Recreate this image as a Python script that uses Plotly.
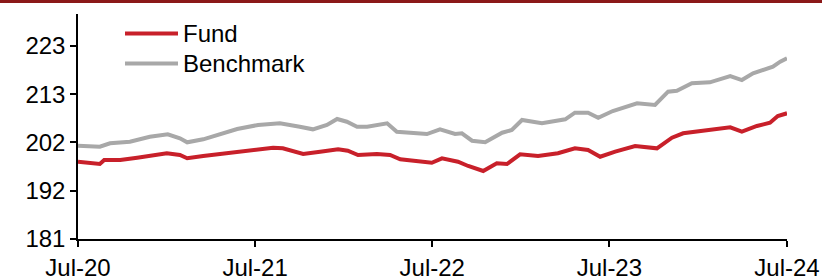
import plotly.graph_objects as go

fund_dates = ["2020-07-01","2020-08-15","2020-08-24","2020-09-26","2020-10-31","2020-12-31","2021-01-27",
              "2021-02-11","2021-03-16","2021-05-04","2021-06-06","2021-07-11","2021-08-07","2021-08-27",
              "2021-09-17","2021-10-08","2021-11-12","2021-12-19","2022-01-08","2022-01-29","2022-03-09",
              "2022-04-05","2022-04-26","2022-05-31","2022-06-30","2022-07-21","2022-08-23","2022-09-13",
              "2022-10-14","2022-11-11","2022-12-02","2022-12-29","2023-02-04","2023-03-17","2023-04-21",
              "2023-05-18","2023-06-12","2023-07-13","2023-08-23","2023-10-07","2023-11-07","2023-11-30",
              "2024-01-18","2024-03-06","2024-03-30","2024-04-30","2024-05-27","2024-06-12","2024-07-01"]
fund_values = [197.96,197.46,198.34,198.34,198.84,199.81,199.43,
               198.71,199.22,199.81,200.31,200.75,201.04,200.90,
               200.16,199.65,200.16,200.69,200.38,199.43,199.65,
               199.43,198.49,198.18,197.74,198.71,197.96,197.02,
               195.92,197.61,197.46,199.59,199.22,199.81,200.90,
               200.53,199.06,200.16,201.41,200.90,203.23,204.20,
               204.77,205.51,204.55,205.80,206.52,207.99,208.59]

bench_dates = ["2020-07-01","2020-08-15","2020-09-05","2020-10-16","2020-11-26","2021-01-02","2021-01-27",
               "2021-02-11","2021-03-16","2021-04-20","2021-05-25","2021-07-07","2021-08-21","2021-10-01",
               "2021-10-28","2021-11-26","2021-12-17","2022-01-06","2022-01-27","2022-02-17","2022-03-30",
               "2022-04-19","2022-05-16","2022-06-20","2022-07-17","2022-08-17","2022-08-31","2022-09-21",
               "2022-10-18","2022-11-22","2022-12-12","2023-01-02","2023-02-12","2023-04-01","2023-04-21",
               "2023-05-18","2023-06-08","2023-07-08","2023-08-27","2023-10-03","2023-10-30","2023-11-17",
               "2023-12-18","2024-01-24","2024-03-06","2024-03-30","2024-04-22","2024-06-02","2024-06-17",
               "2024-07-01"]
bench_values = [201.48,201.26,202.00,202.35,203.45,203.98,203.10,
                202.22,202.88,204.04,205.14,206.02,206.39,205.65,
                205.07,206.02,207.34,206.74,205.65,205.65,206.39,
                204.55,204.42,204.04,205.07,204.04,204.20,202.57,
                202.22,204.33,204.92,207.12,206.39,207.27,208.72,
                208.72,207.62,209.09,210.78,210.41,213.33,213.55,
                215.17,215.39,216.77,215.89,217.36,218.81,219.91,
                220.66]

x_tick_vals = ["2020-07-01","2021-07-01","2022-07-01","2023-07-01","2024-07-01"]
x_tick_text = ["Jul-20","Jul-21","Jul-22","Jul-23","Jul-24"]
y_tick_vals = [181, 191.6, 202.2, 212.8, 223.4]
y_tick_text = ["181","192","202","213","223"]
series_names = ["Fund", "Benchmark"]

RED = "#C8202A"
GRAY = "#A8A8A8"
FONT = "Liberation Sans, Arial, sans-serif"

W, H = 822, 277
ML, MR, MT, MB = 78, 35, 14, 38
PW, PH = W - ML - MR, H - MT - MB

fig = go.Figure()
fig.add_trace(go.Scatter(x=bench_dates, y=bench_values, mode="lines", name=series_names[1],
                         line=dict(color=GRAY, width=4), showlegend=False))
fig.add_trace(go.Scatter(x=fund_dates, y=fund_values, mode="lines", name=series_names[0],
                         line=dict(color=RED, width=4), showlegend=False))

def px_x(p):
    return (p - ML) / PW

def px_y(p):
    return 1 - (p - MT) / PH

shapes = [
    dict(type="line", xref="paper", yref="paper", x0=px_x(0), x1=px_x(W), y0=px_y(1.5), y1=px_y(1.5),
         line=dict(color="#8B1818", width=3)),
    dict(type="line", xref="paper", yref="paper", x0=px_x(125), x1=px_x(178), y0=px_y(33.5), y1=px_y(33.5),
         line=dict(color=RED, width=4)),
    dict(type="line", xref="paper", yref="paper", x0=px_x(125), x1=px_x(178), y0=px_y(63.5), y1=px_y(63.5),
         line=dict(color=GRAY, width=4)),
]
annotations = [
    dict(xref="paper", yref="paper", x=px_x(181), y=px_y(33.5), text=series_names[0], showarrow=False,
         xanchor="left", yanchor="middle", font=dict(size=24, color="black", family=FONT)),
    dict(xref="paper", yref="paper", x=px_x(181), y=px_y(63.5), text=series_names[1], showarrow=False,
         xanchor="left", yanchor="middle", font=dict(size=24, color="black", family=FONT)),
]

fig.update_layout(
    width=W, height=H,
    margin=dict(l=ML, r=MR, t=MT, b=MB, pad=0, autoexpand=False),
    paper_bgcolor="white", plot_bgcolor="white",
    font=dict(family=FONT, size=24, color="black"),
    shapes=shapes, annotations=annotations,
    xaxis=dict(type="date", range=["2020-07-01", "2024-07-01"], tickvals=x_tick_vals, ticktext=x_tick_text,
               showgrid=False, zeroline=False, showline=True, linecolor="black", linewidth=1.5,
               ticks="outside", ticklen=6, tickcolor="black", tickwidth=1.5, tickangle=0, automargin=False),
    yaxis=dict(range=[181, 230.38], tickvals=y_tick_vals, ticktext=y_tick_text,
               showgrid=False, zeroline=False, showline=True, linecolor="black", linewidth=1.5,
               ticks="outside", ticklen=6, tickcolor="black", tickwidth=1.5, automargin=False),
)

fig.write_html("out.html", config={"displayModeBar": False},
               post_script="document.body.style.margin='0';document.body.style.overflow='hidden';")
